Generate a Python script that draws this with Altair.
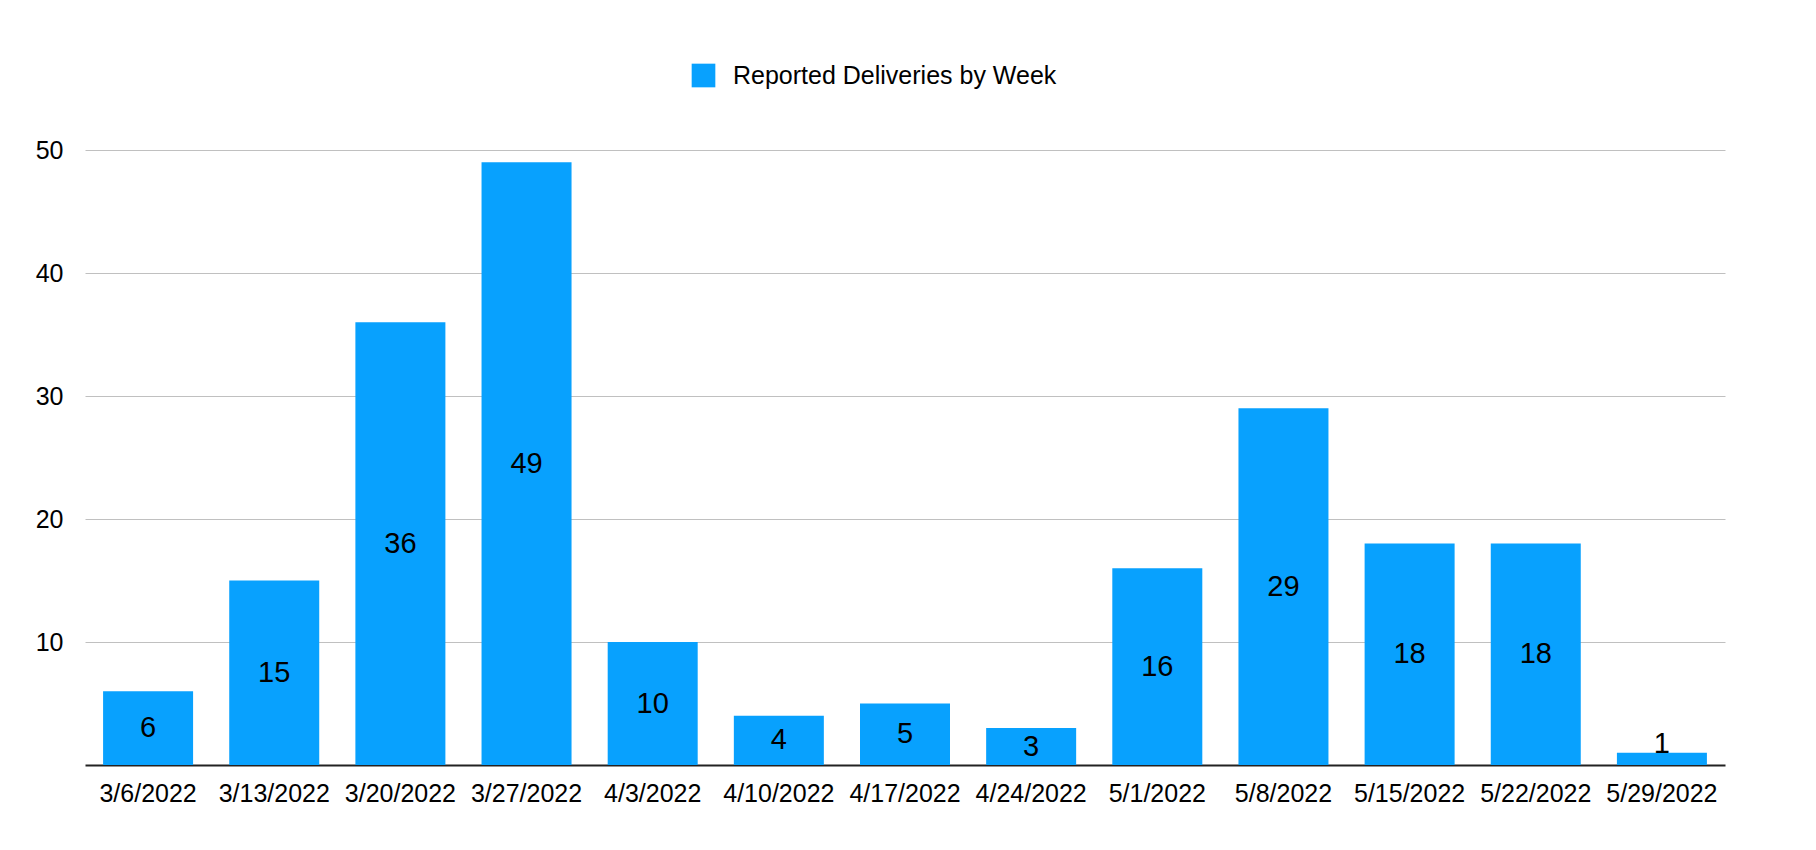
import altair as alt
import pandas as pd

weeks = ["3/6/2022", "3/13/2022", "3/20/2022", "3/27/2022", "4/3/2022",
         "4/10/2022", "4/17/2022", "4/24/2022", "5/1/2022", "5/8/2022",
         "5/15/2022", "5/22/2022", "5/29/2022"]
deliveries = [6, 15, 36, 49, 10, 4, 5, 3, 16, 29, 18, 18, 1]
series_name = "Reported Deliveries by Week"
y_ticks = [10, 20, 30, 40, 50]

BLUE = "#08A1FE"
FONT = "Liberation Sans"

df = pd.DataFrame({"week": weeks, "count": deliveries, "series": series_name})

x_enc = alt.X(
    "week:N",
    sort=None,
    title=None,
    scale=alt.Scale(paddingInner=0.2857, paddingOuter=0.1429),
    axis=alt.Axis(
        labelAngle=0,
        labelFont=FONT,
        labelFontSize=25,
        labelColor="#000000",
        labelPadding=16,
        labelLimit=0,
        ticks=False,
        domainColor="#222222",
        domainWidth=2,
        grid=False,
    ),
)

y_scale = alt.Scale(domain=[0, 50], nice=False)

bars = alt.Chart(df).mark_bar(size=90).encode(
    x=x_enc,
    y=alt.Y(
        "count:Q",
        title=None,
        scale=y_scale,
        axis=alt.Axis(
            values=y_ticks,
            labelFont=FONT,
            labelFontSize=25,
            labelColor="#000000",
            labelPadding=22,
            ticks=False,
            domain=False,
            gridColor="#C0C0C0",
            gridWidth=1,
        ),
    ),
    color=alt.Color(
        "series:N",
        scale=alt.Scale(range=[BLUE]),
        legend=alt.Legend(
            title=None,
            orient="none",
            legendX=606,
            legendY=-87,
            symbolType="square",
            symbolSize=560,
            symbolStrokeWidth=0,
            labelFont=FONT,
            labelFontSize=25,
            labelColor="#000000",
            labelOffset=17,
            labelLimit=0,
        ),
    ),
)

# value labels centred inside bars that are tall enough
inside = alt.Chart(df).transform_filter("datum.count >= 2").transform_calculate(
    mid="datum.count / 2"
).mark_text(font=FONT, fontSize=29, color="#000000", baseline="middle").encode(
    x=alt.X("week:N", sort=None),
    y=alt.Y("mid:Q", scale=y_scale),
    text="count:Q",
)

# short bars get their label sitting on top of the bar
above = alt.Chart(df).transform_filter("datum.count < 2").mark_text(
    font=FONT, fontSize=29, color="#000000", baseline="alphabetic"
).encode(
    x=alt.X("week:N", sort=None),
    y=alt.Y("count:Q", scale=y_scale),
    text="count:Q",
)

chart = (
    alt.layer(bars, inside, above)
    .properties(
        width=1640,
        height=615,
        autosize=alt.AutoSizeParams(type="none"),
        padding={"left": 85, "top": 150, "right": 91, "bottom": 85},
        background="#FFFFFF",
    )
    .configure_view(stroke=None)
)

chart.save("out.html", embed_options={"renderer": "svg", "actions": False})
